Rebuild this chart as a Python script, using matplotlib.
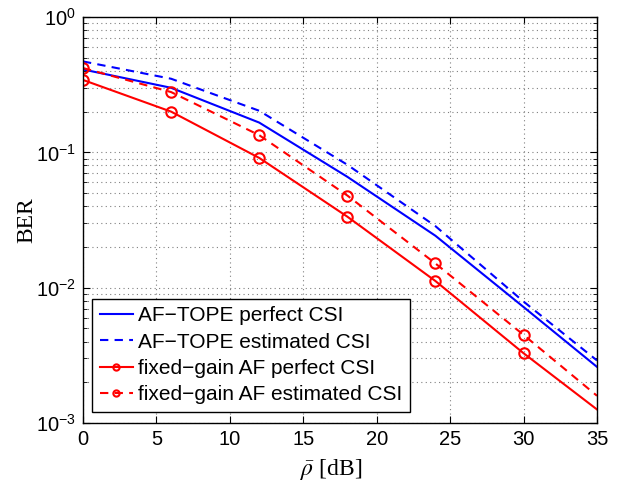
import matplotlib
matplotlib.use("Agg")
import matplotlib.pyplot as plt
from matplotlib.ticker import LogLocator, NullFormatter

plt.rcParams['font.family'] = ['Liberation Sans', 'DejaVu Sans']
plt.rcParams['mathtext.fontset'] = 'stix'

# Datos
snr_db = [0, 6, 12, 18, 24, 30, 35]
tope_perfect = [0.41, 0.30, 0.166, 0.066, 0.0242, 0.0072, 0.0026]
tope_estimated = [0.47, 0.35, 0.203, 0.081, 0.0285, 0.0079, 0.0029]
fixed_perfect = [0.343, 0.20, 0.091, 0.0335, 0.0112, 0.00328, 0.00126]
fixed_estimated = [0.42, 0.279, 0.134, 0.048, 0.0151, 0.00448, 0.00159]

labels = ["AF\u2212TOPE perfect CSI", "AF\u2212TOPE estimated CSI",
          "fixed\u2212gain AF perfect CSI", "fixed\u2212gain AF estimated CSI"]

x_ticks = [0, 5, 10, 15, 20, 25, 30, 35]
y_ticks = [1e-3, 1e-2, 1e-1, 1e0]
y_tick_text = [r"$\mathregular{10^{-3}}$", r"$\mathregular{10^{-2}}$",
               r"$\mathregular{10^{-1}}$", r"$\mathregular{10^{0}}$"]

fig = plt.figure(figsize=(6.23, 4.87), dpi=100)
ax = fig.add_axes([0.1332, 0.1314, 0.8250, 0.8336])

# los marcadores no se dibujan en el ultimo punto (35 dB)
marcas = list(range(len(snr_db) - 1))

ax.semilogy(snr_db, tope_perfect, color="b", linestyle="-", linewidth=1.5, label=labels[0])
ax.semilogy(snr_db, tope_estimated, color="b", linestyle=(0, (4, 3)), linewidth=1.5, label=labels[1])
ax.semilogy(snr_db, fixed_perfect, color="r", linestyle="-", linewidth=1.5,
            marker="o", markersize=7.5, markerfacecolor="none", markeredgewidth=1.5,
            markevery=marcas, label=labels[2])
ax.semilogy(snr_db, fixed_estimated, color="r", linestyle=(0, (4, 3)), linewidth=1.5,
            marker="o", markersize=7.5, markerfacecolor="none", markeredgewidth=1.5,
            markevery=marcas, label=labels[3])

ax.set_xlim(0, 35)
ax.set_ylim(1e-3, 1)
ax.set_xticks(x_ticks)
ax.set_yticks(y_ticks)
ax.set_yticklabels(y_tick_text)
ax.yaxis.set_minor_locator(LogLocator(base=10, subs=range(2, 10), numticks=20))
ax.yaxis.set_minor_formatter(NullFormatter())
ax.tick_params(which="both", direction="in", top=True, right=True, labelsize=14.5)
ax.tick_params(which="major", length=5, pad=5)
ax.tick_params(which="minor", length=3)

ax.grid(True, which="major", linestyle=(0, (1, 3)), color="0.5", linewidth=0.8)
ax.grid(True, which="minor", axis="y", linestyle=(0, (1, 3)), color="0.5", linewidth=0.8)

ax.set_xlabel(r"$\bar{\rho}$ [dB]", fontsize=17, family="Liberation Serif", labelpad=6)
ax.xaxis.label.set_x(0.483)
ax.set_ylabel("BER", fontsize=17, family="Liberation Serif", labelpad=-1)

leg = ax.legend(loc="lower left", bbox_to_anchor=(0.01, 0.018), fontsize=15,
                fancybox=False, framealpha=1, edgecolor="k", borderpad=0.35,
                labelspacing=0.35, handlelength=1.6, handletextpad=0.25,
                borderaxespad=0.2, markerscale=0.6)
leg.get_frame().set_linewidth(1.0)

for s in ax.spines.values():
    s.set_linewidth(1.0)

fig.savefig("out.png", dpi=100)
